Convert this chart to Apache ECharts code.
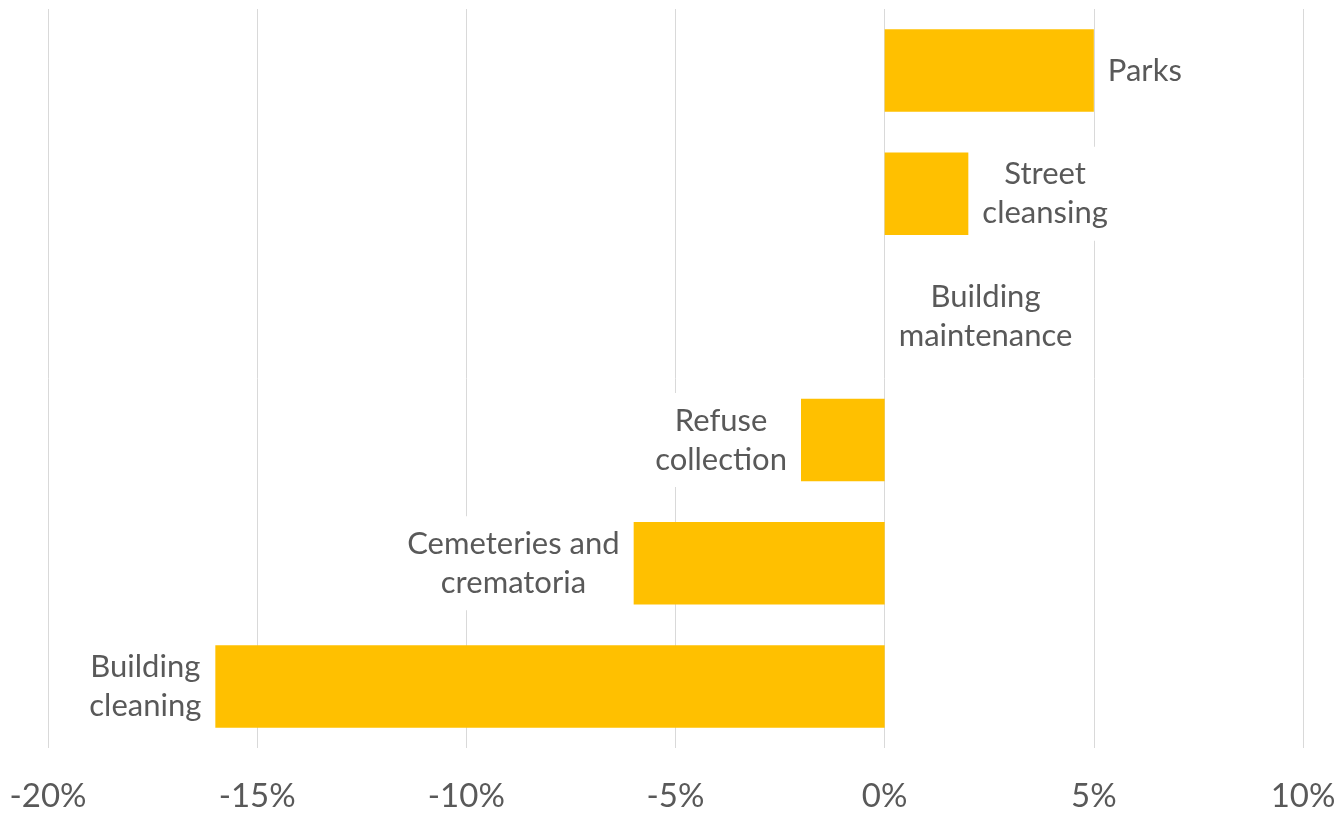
<!DOCTYPE html>
<html>
<head>
<meta charset="utf-8">
<title>Change in spend by service</title>
<script src="https://cdn.jsdelivr.net/npm/echarts@6/dist/echarts.min.js"></script>
<style>
  html, body { margin: 0; padding: 0; background: #ffffff; }
  #chart { width: 1339px; height: 816px; }
</style>
</head>
<body>
<div id="chart"></div>
<script>
// Services, top to bottom
const categories = [
  'Parks',
  'Street cleansing',
  'Building maintenance',
  'Refuse collection',
  'Cemeteries and crematoria',
  'Building cleaning'
];
// Percentage change per service
const changePct = [5, 2, 0, -2, -6, -16];
// Value axis range and step (percent)
const axisMin = -20;
const axisMax = 10;
const axisStep = 5;

const TEXT_COLOR = '#595959';
const FONT = 'Lato, "Noto Sans", sans-serif';

// Break a service name onto two lines at its last space
function wrapName(name) {
  const i = name.lastIndexOf(' ');
  const lines = i < 0 ? [name] : [name.slice(0, i), name.slice(i + 1)];
  return lines.map(l => '{t|' + l + '}').join('\n');
}

const chart = echarts.init(document.getElementById('chart'), null, { renderer: 'canvas' });

chart.setOption({
  animation: false,
  backgroundColor: '#ffffff',
  grid: {
    left: 48,
    right: 36,
    top: 9,
    bottom: 68,
    containLabel: false,
    outerBoundsMode: 'none'
  },
  xAxis: {
    type: 'value',
    min: axisMin,
    max: axisMax,
    interval: axisStep,
    axisLine: { show: false },
    axisTick: { show: false },
    splitLine: { show: true, lineStyle: { color: '#D9D9D9', width: 1 } },
    axisLabel: {
      formatter: v => v + '%',
      color: TEXT_COLOR,
      fontFamily: FONT,
      fontSize: 33,
      margin: 32
    }
  },
  yAxis: {
    type: 'category',
    data: categories,
    inverse: true,
    axisLine: { show: false },
    axisTick: { show: false },
    axisLabel: { show: false },
    splitLine: { show: false }
  },
  series: [{
    type: 'bar',
    barCategoryGap: '33%',
    itemStyle: { color: '#FFC000' },
    label: {
      show: true,
      distance: 6,
      formatter: p => wrapName(p.name),
      backgroundColor: '#ffffff',
      padding: [8, 8],
      rich: {
        t: {
          align: 'center',
          color: TEXT_COLOR,
          fontFamily: FONT,
          fontSize: 31,
          lineHeight: 39
        }
      }
    },
    data: changePct.map(v => ({
      value: v,
      label: { position: v < 0 ? 'left' : 'right' }
    }))
  }]
});
</script>
</body>
</html>
